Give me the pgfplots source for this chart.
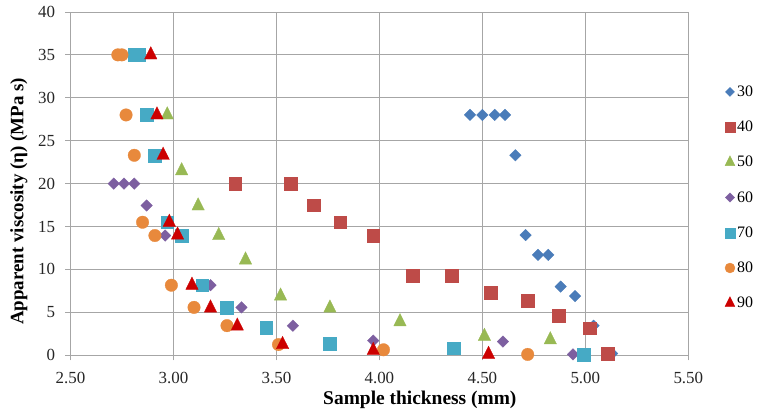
\documentclass[border=0pt]{standalone}
\usepackage{fontspec}
\setmainfont{Liberation Serif}
\usepackage{pgfplots}
\pgfplotsset{compat=1.18}

\definecolor{c30}{HTML}{4A7CB9}
\definecolor{c40}{HTML}{BE4B48}
\definecolor{c50}{HTML}{98B954}
\definecolor{c60}{HTML}{7D5FA0}
\definecolor{c70}{HTML}{46AAC5}
\definecolor{c80}{HTML}{E8893C}
\definecolor{c90}{HTML}{CC0000}
\definecolor{gridgray}{HTML}{A6A6A6}

\begin{document}
\begin{tikzpicture}
\begin{axis}[
    name=ax,
    scale only axis,
    width=620pt, height=344.5pt,
    xmin=2.5, xmax=5.5,
    ymin=0, ymax=40,
    xtick={2.5,3,3.5,4,4.5,5,5.5},
    ytick={0,5,...,40},
    xticklabel style={yshift=-8pt, /pgf/number format/fixed, /pgf/number format/fixed zerofill, /pgf/number format/precision=2},
    yticklabel style={xshift=-7pt},
    /pgf/number format/assume math mode=true,
    tick label style={font=\fontsize{17}{17}\selectfont, text=black!85},
    grid=major,
    major grid style={draw=gridgray, line width=0.9pt},
    axis line style={draw=gridgray, line width=0.9pt},
    tick style={draw=gridgray, line width=0.9pt},
    tick align=outside,
    major tick length=5pt,
    tick pos=left,
    every axis y label/.style={at={(axis description cs:-0.0834,0.4485)}, rotate=90, anchor=center},
    every axis x label/.style={at={(axis description cs:0.5655,0)}, anchor=base, yshift=-49.5pt},
    xlabel={\fontsize{19.5}{19.5}\selectfont\bfseries Sample thickness (mm)},
    ylabel={\fontsize{19}{19}\selectfont\bfseries Apparent viscosity (η) (MPa s)},
    legend style={at={(1.054,0.797)}, anchor=north west, draw=none, fill=none,
        font=\fontsize{16}{16}\selectfont, row sep=19.2pt, column sep=0pt,
        nodes={inner sep=2pt}},
    legend cell align=left,
    legend image code/.code={\draw[mark repeat=2,mark phase=2,#1,/tikz/every mark/.append style={scale=0.8}] plot coordinates {(0pt,0pt) (6pt,0pt) (12pt,0pt)};},
    only marks,
]

% 30
\addplot[mark=square*, mark size=4.1pt, mark options={rotate=45, fill=c30, draw=c30, line width=0.3pt}] coordinates {
    (4.44,28) (4.50,28) (4.56,28) (4.61,28) (4.66,23.3) (4.71,14)
    (4.77,11.7) (4.82,11.7) (4.88,8.0) (4.95,6.9) (5.04,3.45) (5.13,0.2)
};
\addlegendentry{30}

% 40
\addplot[mark=square*, mark size=6.4pt, mark options={fill=c40, draw=c40, line width=0.3pt}] coordinates {
    (3.30,20) (3.57,20) (3.68,17.5) (3.81,15.5) (3.97,13.9) (4.16,9.3)
    (4.35,9.3) (4.54,7.3) (4.72,6.35) (4.87,4.6) (5.02,3.15) (5.11,0.2)
};
\addlegendentry{40}

% 50
\addplot[mark=triangle*, mark size=7.2pt, mark options={yscale=1.15, fill=c50, draw=c50, line width=0.3pt}] coordinates {
    (2.97,28) (3.04,21.5) (3.12,17.4) (3.22,13.95) (3.35,11.1) (3.52,6.9)
    (3.76,5.5) (4.10,3.9) (4.51,2.2) (4.83,1.8)
};
\addlegendentry{50}

% 60
\addplot[mark=square*, mark size=4.1pt, mark options={rotate=45, fill=c60, draw=c60, line width=0.3pt}] coordinates {
    (2.71,20) (2.76,20) (2.81,20) (2.87,17.45) (2.96,13.95) (3.18,8.16)
    (3.33,5.58) (3.58,3.45) (3.97,1.7) (4.60,1.6) (4.94,0.1)
};
\addlegendentry{60}

% 70
\addplot[mark=square*, mark size=6.4pt, mark options={fill=c70, draw=c70, line width=0.3pt}] coordinates {
    (2.81,35) (2.83,35) (2.87,28) (2.91,23.3) (2.97,15.5) (3.04,13.95)
    (3.14,8.16) (3.26,5.58) (3.45,3.26) (3.76,1.33) (4.36,0.83) (4.99,0.1)
};
\addlegendentry{70}

% 80
\addplot[mark=*, mark size=6.3pt, mark options={fill=c80, draw=c80, line width=0.3pt}] coordinates {
    (2.73,35) (2.75,35) (2.77,28) (2.81,23.3) (2.85,15.5) (2.91,13.95)
    (2.99,8.16) (3.10,5.58) (3.26,3.45) (3.51,1.25) (4.02,0.64) (4.72,0.1)
};
\addlegendentry{80}

% 90
\addplot[mark=triangle*, mark size=7.2pt, mark options={yscale=1.15, fill=c90, draw=c90, line width=0.3pt}] coordinates {
    (2.89,35) (2.92,28) (2.95,23.3) (2.98,15.5) (3.02,14) (3.09,8.16)
    (3.18,5.5) (3.31,3.4) (3.53,1.25) (3.97,0.56) (4.53,0.1)
};
\addlegendentry{90}

\end{axis}
\path[use as bounding box] (ax.south west) ++(-70.7pt,-56.5pt) rectangle ++(758pt,413pt);
\end{tikzpicture}
\end{document}
